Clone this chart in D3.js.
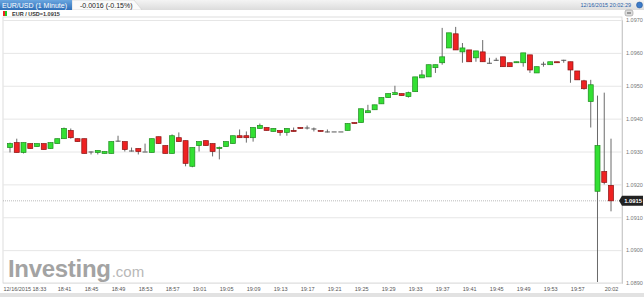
<!DOCTYPE html>
<html>
<head>
<meta charset="utf-8">
<script src="https://cdn.jsdelivr.net/npm/d3@7"></script>
<style>
  body { margin: 0; background: #fff; }
  svg { display: block; font-family: "Liberation Sans", Arial, sans-serif; }
</style>
</head>
<body>
<div class="d3-container"></div>
<script>
// one-minute candles, 18:33 .. 20:02
const minutes = [
  "18:33","18:34","18:35","18:36","18:37","18:38","18:39","18:40","18:41","18:42",
  "18:43","18:44","18:45","18:46","18:47","18:48","18:49","18:50","18:51","18:52",
  "18:53","18:54","18:55","18:56","18:57","18:58","18:59","19:00","19:01","19:02",
  "19:03","19:04","19:05","19:06","19:07","19:08","19:09","19:10","19:11","19:12",
  "19:13","19:14","19:15","19:16","19:17","19:18","19:19","19:20","19:21","19:22",
  "19:23","19:24","19:25","19:26","19:27","19:28","19:29","19:30","19:31","19:32",
  "19:33","19:34","19:35","19:36","19:37","19:38","19:39","19:40","19:41","19:42",
  "19:43","19:44","19:45","19:46","19:47","19:48","19:49","19:50","19:51","19:52",
  "19:53","19:54","19:55","19:56","19:57","19:58","19:59","20:00","20:01","20:02"];

const open = [
  1.09312,1.09327,1.09297,1.09324,1.09315,1.09324,1.09309,1.09324,1.09339,1.09364,
  1.09339,1.09339,1.09300,1.09297,1.09294,1.09294,1.09333,1.09330,1.09303,1.09309,
  1.09300,1.09297,1.09345,1.09318,1.09294,1.09342,1.09333,1.09255,1.09318,1.09333,
  1.09324,1.09309,1.09315,1.09324,1.09348,1.09348,1.09342,1.09370,1.09373,1.09361,
  1.09364,1.09358,1.09364,1.09373,1.09373,1.09370,1.09364,1.09361,1.09361,1.09361,
  1.09364,1.09388,1.09388,1.09418,1.09427,1.09445,1.09464,1.09473,1.09476,1.09467,
  1.09482,1.09524,1.09527,1.09555,1.09570,1.09615,1.09658,1.09603,1.09609,1.09585,
  1.09603,1.09570,1.09579,1.09588,1.09570,1.09570,1.09570,1.09594,1.09539,1.09567,
  1.09564,1.09573,1.09579,1.09573,1.09545,1.09515,1.09452,1.09179,1.09239,1.09197];

const high = [
  1.09327,1.09339,1.09327,1.09324,1.09324,1.09324,1.09327,1.09339,1.09373,1.09370,
  1.09339,1.09339,1.09300,1.09303,1.09300,1.09330,1.09348,1.09330,1.09312,1.09309,
  1.09324,1.09339,1.09345,1.09318,1.09352,1.09358,1.09333,1.09312,1.09330,1.09333,
  1.09324,1.09315,1.09330,1.09348,1.09367,1.09361,1.09373,1.09385,1.09373,1.09370,
  1.09364,1.09370,1.09373,1.09373,1.09379,1.09373,1.09364,1.09367,1.09361,1.09361,
  1.09385,1.09388,1.09430,1.09442,1.09442,1.09464,1.09476,1.09500,1.09476,1.09482,
  1.09527,1.09548,1.09564,1.09564,1.09676,1.09661,1.09679,1.09630,1.09609,1.09606,
  1.09639,1.09585,1.09585,1.09588,1.09570,1.09573,1.09600,1.09594,1.09558,1.09573,
  1.09573,1.09573,1.09579,1.09573,1.09545,1.09518,1.09518,1.09470,1.09479,1.09339];

const low = [
  1.09297,1.09297,1.09294,1.09309,1.09315,1.09306,1.09309,1.09324,1.09339,1.09339,
  1.09330,1.09294,1.09291,1.09291,1.09294,1.09294,1.09330,1.09300,1.09300,1.09291,
  1.09300,1.09297,1.09324,1.09294,1.09294,1.09330,1.09255,1.09252,1.09300,1.09318,
  1.09285,1.09276,1.09315,1.09324,1.09342,1.09327,1.09330,1.09370,1.09364,1.09361,
  1.09348,1.09348,1.09361,1.09370,1.09367,1.09361,1.09361,1.09358,1.09361,1.09361,
  1.09364,1.09385,1.09388,1.09418,1.09427,1.09445,1.09464,1.09473,1.09470,1.09464,
  1.09482,1.09524,1.09527,1.09539,1.09564,1.09615,1.09609,1.09570,1.09573,1.09573,
  1.09573,1.09567,1.09576,1.09558,1.09558,1.09570,1.09558,1.09539,1.09539,1.09558,
  1.09564,1.09570,1.09570,1.09509,1.09518,1.09488,1.09373,1.08903,1.09200,1.09118];

const close = [
  1.09324,1.09297,1.09327,1.09309,1.09324,1.09306,1.09327,1.09339,1.09370,1.09342,
  1.09330,1.09294,1.09300,1.09303,1.09300,1.09330,1.09333,1.09306,1.09303,1.09300,
  1.09300,1.09339,1.09324,1.09294,1.09348,1.09330,1.09264,1.09312,1.09330,1.09318,
  1.09300,1.09312,1.09330,1.09348,1.09342,1.09342,1.09373,1.09379,1.09364,1.09370,
  1.09358,1.09370,1.09361,1.09370,1.09373,1.09370,1.09361,1.09361,1.09361,1.09361,
  1.09385,1.09385,1.09430,1.09424,1.09442,1.09464,1.09476,1.09479,1.09470,1.09479,
  1.09527,1.09533,1.09564,1.09564,1.09588,1.09661,1.09609,1.09615,1.09573,1.09606,
  1.09573,1.09570,1.09579,1.09558,1.09558,1.09573,1.09600,1.09548,1.09558,1.09567,
  1.09573,1.09570,1.09579,1.09548,1.09518,1.09491,1.09503,1.09318,1.09206,1.09150];

const xTicks = ["18:33","18:41","18:45","18:49","18:53","18:57","19:01","19:05","19:09","19:13","19:17",
  "19:21","19:25","19:29","19:33","19:37","19:41","19:45","19:49","19:53","19:57","20:02"];
const xTickLabels = ["12/16/2015 18:33","18:41","18:45","18:49","18:53","18:57","19:01","19:05","19:09","19:13","19:17",
  "19:21","19:25","19:29","19:33","19:37","19:41","19:45","19:49","19:53","19:57","20:02"];
const yTicks = [1.0890, 1.0900, 1.0910, 1.0920, 1.0930, 1.0940, 1.0950, 1.0960, 1.0970];
const lastPrice = 1.0915;

const width = 644;
const height = 297;
const plot = {left: 3, right: 622, top: 17, bottom: 283};

const candles = minutes.map((m, i) => ({m, o: open[i], h: high[i], l: low[i], c: close[i]}));

const svg = d3.select(".d3-container")
  .append("svg")
  .attr("width", width)
  .attr("height", height)
  .attr("viewBox", [0, 0, width, height]);

const defs = svg.append("defs");
const tabGrad = defs.append("linearGradient").attr("id", "tab").attr("x1", 0).attr("y1", 0).attr("x2", 0).attr("y2", 1);
tabGrad.append("stop").attr("offset", 0).attr("stop-color", "#6aa6e0");
tabGrad.append("stop").attr("offset", 1).attr("stop-color", "#2f6fb8");
const barGrad = defs.append("linearGradient").attr("id", "bar").attr("x1", 0).attr("y1", 0).attr("x2", 0).attr("y2", 1);
barGrad.append("stop").attr("offset", 0).attr("stop-color", "#f4f4f4");
barGrad.append("stop").attr("offset", 1).attr("stop-color", "#dcdcdc");

// header strip
svg.append("rect").attr("x", 0).attr("y", 0).attr("width", width).attr("height", 10).attr("fill", "url(#bar)");
svg.append("path").attr("d", "M72,0 L134,0 L142,10 L72,10 Z").attr("fill", "#fafafa").attr("stroke", "#cfcfcf").attr("stroke-width", 0.6);
svg.append("rect").attr("x", 0).attr("y", 0).attr("width", 72).attr("height", 10).attr("fill", "url(#tab)");
svg.append("text").attr("x", 2).attr("y", 7.6).attr("font-size", 7).attr("fill", "#fff").text("EUR/USD (1 Minute)");
svg.append("text").attr("x", 80).attr("y", 7.6).attr("font-size", 7).attr("fill", "#222").text("-0.0016 (-0.15%)");
svg.append("text").attr("x", 631).attr("y", 7).attr("font-size", 5.5).attr("text-anchor", "end").attr("fill", "#2a5fa8").text("12/16/2015 20:02:29");
svg.append("circle").attr("cx", 639.5).attr("cy", 5).attr("r", 3).attr("fill", "#3d7cc9").attr("stroke", "#1f4f8f").attr("stroke-width", 0.5);

// second row
svg.append("rect").attr("x", 0).attr("y", 10).attr("width", width).attr("height", 7).attr("fill", "#fff");
svg.append("rect").attr("x", 3).attr("y", 11).attr("width", 2).attr("height", 5).attr("fill", "#e22");
svg.append("rect").attr("x", 5).attr("y", 11).attr("width", 2).attr("height", 5).attr("fill", "#2c2");
svg.append("text").attr("x", 12).attr("y", 15.6).attr("font-size", 5.5).attr("font-weight", "bold").attr("fill", "#333").text("EUR / USD=1.0915");
svg.append("rect").attr("x", 625).attr("y", 10).attr("width", 8).attr("height", 6).attr("rx", 2).attr("fill", "#ddd").attr("stroke", "#888").attr("stroke-width", 0.5);
svg.append("line").attr("x1", 627).attr("x2", 631).attr("y1", 13).attr("y2", 13).attr("stroke", "#333").attr("stroke-width", 0.8);

const x = d3.scalePoint()
  .domain(minutes)
  .range([10, 611]);

const y = d3.scaleLinear()
  .domain([1.0890, 1.0970])
  .range([plot.bottom, 20]);

// frame
svg.append("rect")
  .attr("x", plot.left).attr("y", plot.top)
  .attr("width", plot.right - plot.left).attr("height", plot.bottom - plot.top)
  .attr("fill", "#fff").attr("stroke", "#d4d4d4").attr("stroke-width", 0.8);

// watermark
const logo = svg.append("text").attr("x", 8).attr("y", 277).attr("fill", "#a3a3a3");
logo.append("tspan").attr("font-size", 24).attr("font-weight", "bold").attr("letter-spacing", -0.3).text("Investing");
logo.append("tspan").attr("font-size", 15).attr("fill", "#b8b8b8").attr("dx", 1).text(".com");

// y axis with gridlines
function yAxis(g) {
  g.attr("transform", `translate(${plot.right}, 0)`)
    .call(d3.axisRight(y).tickValues(yTicks).tickFormat(d3.format(".4f")).tickSize(-(plot.right - plot.left)).tickPadding(4))
    .call(g => g.select(".domain").attr("stroke", "#ccc"))
    .call(g => g.selectAll(".tick line").attr("stroke", "#e6e6e6"))
    .call(g => g.selectAll(".tick text").attr("font-size", 5.5).attr("fill", "#777").attr("font-family", "Liberation Sans, Arial, sans-serif"));
}
svg.append("g").call(yAxis);

// x axis labels
function xAxis(g) {
  g.attr("transform", `translate(0, ${plot.bottom})`)
    .call(d3.axisBottom(x).tickValues(xTicks).tickSize(0).tickPadding(4)
      .tickFormat((d, i) => xTickLabels[i]))
    .call(g => g.select(".domain").remove())
    .call(g => g.selectAll(".tick text").attr("font-size", 5.5).attr("fill", "#555").attr("font-family", "Liberation Sans, Arial, sans-serif"))
    .call(g => g.select(".tick:first-of-type text").attr("text-anchor", "start").attr("dx", -7));
}
svg.append("g").call(xAxis);
svg.append("rect").attr("x", 0).attr("y", 293).attr("width", width).attr("height", 4).attr("fill", "#e2e2e2");

// last price line
svg.append("line")
  .attr("x1", plot.left).attr("x2", plot.right)
  .attr("y1", y(lastPrice)).attr("y2", y(lastPrice))
  .attr("stroke", "#aaa").attr("stroke-width", 0.8).attr("stroke-dasharray", "1,1");

// candles
const bw = 5;
const cg = svg.append("g").selectAll("g").data(candles).join("g");
cg.append("line")
  .attr("x1", d => x(d.m)).attr("x2", d => x(d.m))
  .attr("y1", d => y(d.h)).attr("y2", d => y(d.l))
  .attr("stroke", "#6a6a6a").attr("stroke-width", 1);
cg.append("rect")
  .attr("x", d => x(d.m) - bw / 2)
  .attr("y", d => y(Math.max(d.o, d.c)))
  .attr("width", bw)
  .attr("height", d => Math.max(1, Math.abs(y(d.o) - y(d.c))))
  .attr("fill", d => d.c > d.o ? "#33e033" : d.c < d.o ? "#ee2222" : "#555")
  .attr("stroke", d => d.c > d.o ? "#1d8a1d" : d.c < d.o ? "#8a1212" : "#555")
  .attr("stroke-width", d => d.c === d.o ? 0 : 0.7);

// last price tag
const ty = y(lastPrice);
svg.append("path")
  .attr("d", `M619,${ty} L622,${ty - 5} L643,${ty - 5} L643,${ty + 5} L622,${ty + 5} Z`)
  .attr("fill", "#222");
svg.append("text").attr("x", 633).attr("y", ty + 2).attr("text-anchor", "middle")
  .attr("font-size", 5.8).attr("font-weight", "bold").attr("fill", "#fff").text("1.0915");

svg.node();
</script>
</body>
</html>
